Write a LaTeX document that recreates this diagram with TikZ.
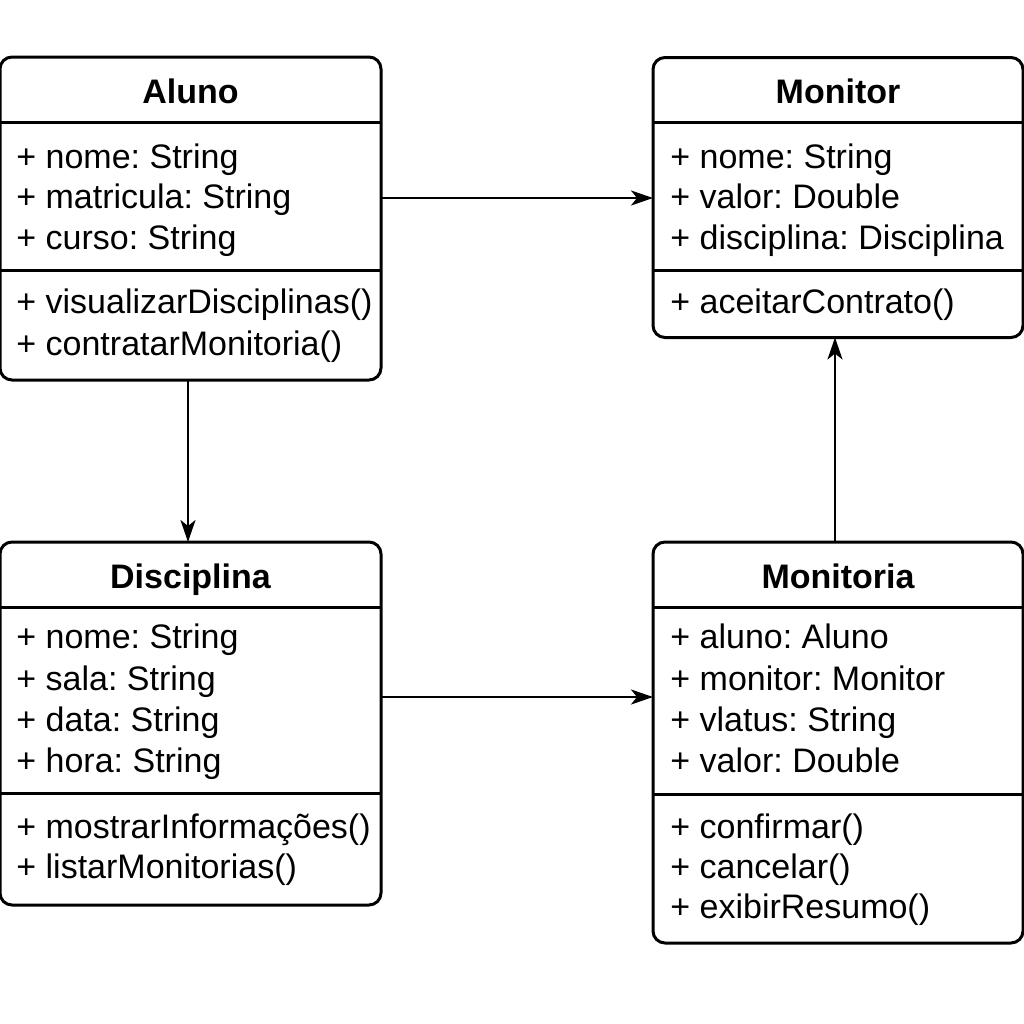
\documentclass[tikz,border=0pt]{standalone}
\usepackage{fontspec}
\setmainfont{Liberation Sans}
\usetikzlibrary{arrows.meta}
\begin{document}
\frenchspacing
\begin{tikzpicture}[x=0.5pt,y=-0.5pt,
  classbox/.style={draw, line width=1.5pt, rounded corners=6pt, outer sep=0pt, inner sep=0pt},
  divider/.style={line width=1.5pt},
  member/.style={anchor=base west, inner sep=0pt, font=\fontsize{17pt}{20pt}\selectfont},
  title/.style={anchor=base, inner sep=0pt, font=\fontsize{17pt}{20pt}\selectfont\bfseries},
  conn/.style={line width=1.3pt, -{Stealth[length=11pt,width=7.5pt,inset=3pt]}}
]
\useasboundingbox (0,0) rectangle (1024,1024);
\fill[white] (0,0) rectangle (1024,1024);

% Aluno
\node[classbox, minimum width=190.5pt, minimum height=161.5pt] (aluno) at (190.5,218.5) {};
\draw[divider] (aluno.west |- 0,122) -- (aluno.east |- 0,122);
\draw[divider] (aluno.west |- 0,270) -- (aluno.east |- 0,270);
\node[title] (alunoT) at (aluno.center |- 0,103) {Aluno};
\node[member] (alunoA1) at (16,168) {+ nome: String};
\node[member] (alunoA2) at (16,208) {+ matricula: String};
\node[member] (alunoA3) at (16,249) {+ curso: String};
\node[member] (alunoM1) at (16,313) {+ visualizarDisciplinas()};
\node[member] (alunoM2) at (16,355) {+ contratarMonitoria()};

% Monitor
\node[classbox, minimum width=185pt, minimum height=140pt] (monitor) at (838,197.5) {};
\draw[divider] (monitor.west |- 0,122) -- (monitor.east |- 0,122);
\draw[divider] (monitor.west |- 0,270) -- (monitor.east |- 0,270);
\node[title] (monitorT) at (monitor.center |- 0,103) {Monitor};
\node[member] (monitorA1) at (670,168) {+ nome: String};
\node[member] (monitorA2) at (670,208) {+ valor: Double};
\node[member] (monitorA3) at (670,249) {+ disciplina: Disciplina};
\node[member] (monitorM1) at (670,313) {+ aceitarContrato()};

% Disciplina
\node[classbox, minimum width=190.5pt, minimum height=181.5pt] (disc) at (190.5,723.5) {};
\draw[divider] (disc.west |- 0,607) -- (disc.east |- 0,607);
\draw[divider] (disc.west |- 0,793) -- (disc.east |- 0,793);
\node[title] (discT) at (disc.center |- 0,588) {Disciplina};
\node[member] (discA1) at (16,648) {+ nome: String};
\node[member] (discA2) at (16,690) {+ sala: String};
\node[member] (discA3) at (16,731) {+ data: String};
\node[member] (discA4) at (16,772) {+ hora: String};
\node[member] (discM1) at (16,838) {+ mostrarInformações()};
\node[member] (discM2) at (16,878) {+ listarMonitorias()};

% Monitoria
\node[classbox, minimum width=185pt, minimum height=200.5pt] (monit) at (838,742.5) {};
\draw[divider] (monit.west |- 0,607) -- (monit.east |- 0,607);
\draw[divider] (monit.west |- 0,794) -- (monit.east |- 0,794);
\node[title] (monitT) at (monit.center |- 0,588) {Monitoria};
\node[member] (monitA1) at (670,648) {+ aluno: Aluno};
\node[member] (monitA2) at (670,690) {+ monitor: Monitor};
\node[member] (monitA3) at (670,731) {+ vlatus: String};
\node[member] (monitA4) at (670,772) {+ valor: Double};
\node[member] (monitM1) at (670,838) {+ confirmar()};
\node[member] (monitM2) at (670,878) {+ cancelar()};
\node[member] (monitM3) at (670,918) {+ exibirResumo()};

% Connectors
\draw[conn] (aluno.east |- 0,198) -- (monitor.west |- 0,198);
\draw[conn] (aluno.south -| 188,0) -- (disc.north -| 188,0);
\draw[conn] (disc.east |- 0,697) -- (monit.west |- 0,697);
\draw[conn] (monit.north -| 835,0) -- (monitor.south -| 835,0);
\end{tikzpicture}
\end{document}
